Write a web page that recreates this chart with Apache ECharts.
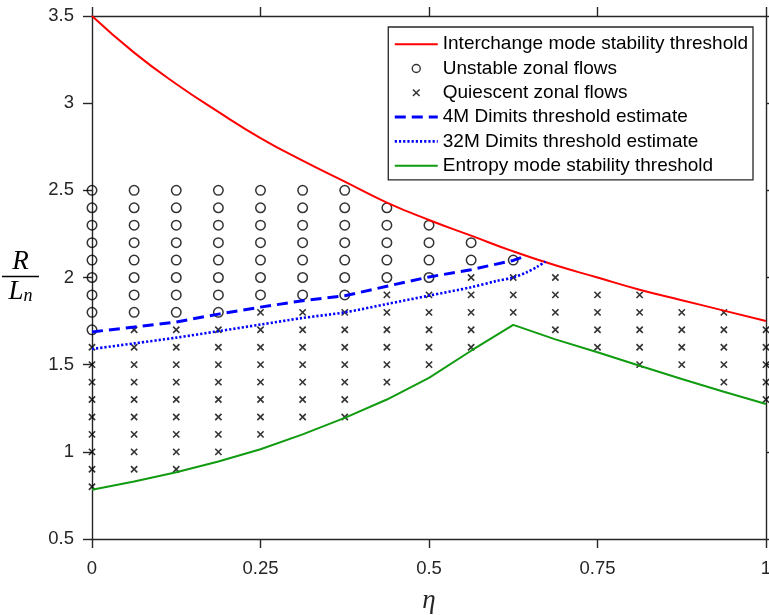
<!DOCTYPE html>
<html>
<head>
<meta charset="utf-8">
<script src="https://cdn.jsdelivr.net/npm/echarts@6/dist/echarts.min.js"></script>
<style>
html,body{margin:0;padding:0;background:#fff;}
#chart{width:769px;height:615px;}
</style>
</head>
<body>
<div id="chart"></div>
<script>
// ---- data ----
const etaGrid = [0, 0.0625, 0.125, 0.1875, 0.25, 0.3125, 0.375, 0.4375, 0.5, 0.5625, 0.625, 0.6875, 0.75, 0.8125, 0.875, 0.9375, 1];

// Interchange mode stability threshold (red)
const interchangeR = [3.5, 3.29, 3.11, 2.95, 2.8, 2.67, 2.55, 2.43, 2.33, 2.24, 2.15, 2.07, 2.0, 1.93, 1.87, 1.81, 1.75];

// Unstable zonal flows (circles), one list per eta column
const unstableCols = [
  [2.5, 2.4, 2.3, 2.2, 2.1, 2.0, 1.9, 1.8, 1.7],
  [2.5, 2.4, 2.3, 2.2, 2.1, 2.0, 1.9, 1.8],
  [2.5, 2.4, 2.3, 2.2, 2.1, 2.0, 1.9, 1.8],
  [2.5, 2.4, 2.3, 2.2, 2.1, 2.0, 1.9, 1.8],
  [2.5, 2.4, 2.3, 2.2, 2.1, 2.0, 1.9],
  [2.5, 2.4, 2.3, 2.2, 2.1, 2.0, 1.9],
  [2.5, 2.4, 2.3, 2.2, 2.1, 2.0, 1.9],
  [2.4, 2.3, 2.2, 2.1, 2.0],
  [2.3, 2.2, 2.1, 2.0],
  [2.2, 2.1],
  [2.1],
  [], [], [], [], [], []
];

// Quiescent zonal flows (crosses), one list per eta column
const quiescentCols = [
  [1.6, 1.5, 1.4, 1.3, 1.2, 1.1, 1.0, 0.9, 0.8],
  [1.7, 1.6, 1.5, 1.4, 1.3, 1.2, 1.1, 1.0, 0.9],
  [1.7, 1.6, 1.5, 1.4, 1.3, 1.2, 1.1, 1.0, 0.9],
  [1.7, 1.6, 1.5, 1.4, 1.3, 1.2, 1.1, 1.0],
  [1.8, 1.7, 1.6, 1.5, 1.4, 1.3, 1.2, 1.1],
  [1.8, 1.7, 1.6, 1.5, 1.4, 1.3, 1.2],
  [1.8, 1.7, 1.6, 1.5, 1.4, 1.3, 1.2],
  [1.9, 1.8, 1.7, 1.6, 1.5, 1.4],
  [1.9, 1.8, 1.7, 1.6, 1.5],
  [2.0, 1.9, 1.8, 1.7, 1.6],
  [2.0, 1.9, 1.8],
  [2.0, 1.9, 1.8, 1.7],
  [1.9, 1.8, 1.7, 1.6],
  [1.9, 1.8, 1.7, 1.6, 1.5],
  [1.8, 1.7, 1.6, 1.5],
  [1.8, 1.7, 1.6, 1.5, 1.4],
  [1.7, 1.6, 1.5, 1.4, 1.3]
];

// 4M Dimits threshold estimate (blue dashed)
const dimits4MEta = [0, 0.0625, 0.125, 0.1875, 0.25, 0.3125, 0.375, 0.4375, 0.5, 0.5625, 0.625, 0.645];
const dimits4MR   = [1.688, 1.716, 1.745, 1.79, 1.83, 1.867, 1.895, 1.95, 2.003, 2.045, 2.098, 2.126];

// 32M Dimits threshold estimate (blue dotted)
const dimits32MEta = [0, 0.0625, 0.125, 0.1875, 0.25, 0.3125, 0.375, 0.4375, 0.5, 0.5625, 0.6, 0.625, 0.645, 0.66, 0.673];
const dimits32MR   = [1.59, 1.622, 1.655, 1.692, 1.73, 1.768, 1.8, 1.848, 1.896, 1.944, 1.98, 2.0, 2.03, 2.06, 2.092];

// Entropy mode stability threshold (green)
const entropyR = [0.783, 0.83, 0.883, 0.945, 1.015, 1.1, 1.195, 1.3, 1.424, 1.58, 1.728, 1.645, 1.571, 1.494, 1.418, 1.345, 1.274];

const xTicks = {min: 0, max: 1, interval: 0.25};
const yTicks = {min: 0.5, max: 3.5, interval: 0.5};

// ---- build series data ----
const pairs = (xs, ys) => xs.map((x, i) => [x, ys[i]]);
const unstablePts = [];
unstableCols.forEach((col, k) => col.forEach(v => unstablePts.push([etaGrid[k], v])));
const quiescentPts = [];
quiescentCols.forEach((col, k) => col.forEach(v => quiescentPts.push([etaGrid[k], v])));

const AX = '#262626';
const crossPath = 'path://M-1,-1M11,11M0,0L10,10M10,0L0,10';

const names = [
  'Interchange mode stability threshold',
  'Unstable zonal flows',
  'Quiescent zonal flows',
  '4M Dimits threshold estimate',
  '32M Dimits threshold estimate',
  'Entropy mode stability threshold'
];

const axisCommon = {
  axisLine: {show: true, onZero: false, lineStyle: {color: AX, width: 1.4}},
  axisTick: {show: true, inside: false, length: 9, lineStyle: {color: AX, width: 1.4}},
  splitLine: {show: false}
};

const noSymbol = {color: 'rgba(0,0,0,0)', borderWidth: 0, opacity: 0};

const chart = echarts.init(document.getElementById('chart'), null, {renderer: 'canvas'});
chart.setOption({
  animation: false,
  backgroundColor: '#fff',
  grid: {left: 92, right: 3, top: 16, bottom: 76, containLabel: false, outerBoundsMode: 'none'},
  xAxis: [
    Object.assign({
      type: 'value', position: 'bottom', min: xTicks.min, max: xTicks.max, interval: xTicks.interval,
      axisLabel: {color: AX, fontSize: 18.5, fontFamily: 'Liberation Sans', margin: 20},
      name: 'η', nameLocation: 'middle', nameGap: 48,
      nameTextStyle: {fontFamily: 'Liberation Serif', fontStyle: 'italic', fontSize: 27, color: AX}
    }, axisCommon),
    Object.assign({
      type: 'value', position: 'top', min: xTicks.min, max: xTicks.max, interval: xTicks.interval,
      axisLabel: {show: false}
    }, axisCommon)
  ],
  yAxis: [
    Object.assign({
      type: 'value', position: 'left', min: yTicks.min, max: yTicks.max, interval: yTicks.interval,
      axisLabel: {color: AX, fontSize: 18.5, fontFamily: 'Liberation Sans', margin: 18},
      name: '{r|R}\n{bar| }\n{l|L}{n|n}', nameLocation: 'middle', nameRotate: 0, nameGap: 53,
      nameTextStyle: {
        color: '#000',
        rich: {
          r: {fontFamily: 'Liberation Serif', fontStyle: 'italic', fontSize: 27, lineHeight: 25, align: 'center', color: '#000'},
          bar: {fontSize: 1, lineHeight: 4, height: 1.3, width: 37, backgroundColor: '#000', align: 'center'},
          l: {fontFamily: 'Liberation Serif', fontStyle: 'italic', fontSize: 27, lineHeight: 27, align: 'center', color: '#000'},
          n: {fontFamily: 'Liberation Serif', fontStyle: 'italic', fontSize: 18, lineHeight: 10, verticalAlign: 'bottom', align: 'center', color: '#000'}
        }
      }
    }, axisCommon),
    Object.assign({
      type: 'value', position: 'right', min: yTicks.min, max: yTicks.max, interval: yTicks.interval,
      axisLabel: {show: false}
    }, axisCommon)
  ],
  legend: {
    orient: 'vertical', right: 16, top: 27,
    itemWidth: 43, itemHeight: 8, itemGap: 0,
    padding: [5, 5, 2, 5],
    borderColor: AX, borderWidth: 1.3, backgroundColor: '#fff',
    textStyle: {fontSize: 19, fontFamily: 'Liberation Sans', color: '#000', lineHeight: 24.3},
    selectedMode: false,
    data: [
      {name: names[0], lineStyle: {width: 2}, itemStyle: noSymbol},
      {name: names[1], itemStyle: {color: 'rgba(0,0,0,0)', borderColor: '#000', borderWidth: 1.4}},
      {name: names[2], itemStyle: {color: 'rgba(0,0,0,0)', borderColor: '#000', borderWidth: 1.5}},
      {name: names[3], lineStyle: {width: 3}, itemStyle: noSymbol},
      {name: names[4], lineStyle: {width: 2.6}, itemStyle: noSymbol},
      {name: names[5], lineStyle: {width: 2}, itemStyle: noSymbol}
    ]
  },
  series: [
    {
      name: names[0], type: 'line', smooth: true, symbol: 'none', showSymbol: false,
      data: pairs(etaGrid, interchangeR),
      lineStyle: {color: '#ff0000', width: 2}, itemStyle: {color: '#ff0000'}, z: 3
    },
    {
      name: names[1], type: 'scatter', symbol: 'circle', symbolSize: 9.5,
      data: unstablePts,
      itemStyle: {color: 'rgba(0,0,0,0)', borderColor: '#000', borderWidth: 1.5}, z: 2
    },
    {
      name: names[2], type: 'scatter', symbol: crossPath, symbolSize: 7.5,
      data: quiescentPts,
      itemStyle: {color: 'rgba(0,0,0,0)', borderColor: '#000', borderWidth: 1.6}, z: 2
    },
    {
      name: names[3], type: 'line', symbol: 'none', showSymbol: false,
      data: pairs(dimits4MEta, dimits4MR),
      lineStyle: {color: '#0000ff', width: 3, type: [11, 6]}, itemStyle: {color: '#0000ff'}, z: 4
    },
    {
      name: names[4], type: 'line', symbol: 'none', showSymbol: false, smooth: 0.3,
      data: pairs(dimits32MEta, dimits32MR),
      lineStyle: {color: '#0000ff', width: 2.6, type: [2.2, 2]}, itemStyle: {color: '#0000ff'}, z: 4
    },
    {
      name: names[5], type: 'line', symbol: 'none', showSymbol: false,
      data: pairs(etaGrid, entropyR),
      lineStyle: {color: '#109b10', width: 2}, itemStyle: {color: '#109b10'}, z: 3
    }
  ]
});
</script>
</body>
</html>
